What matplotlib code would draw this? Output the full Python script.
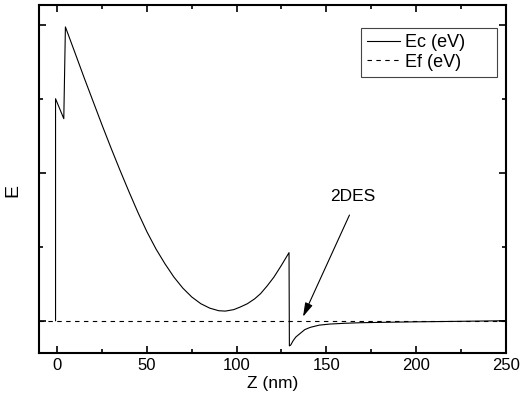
# band diagram: conduction band edge vs depth
import numpy as np
import matplotlib.pyplot as plt

plt.rcParams['font.family'] = ['Liberation Sans', 'DejaVu Sans']

# conduction band edge
z_ec = [-1, -1, 3.6, 4.5, 10, 15, 20, 25, 30, 35, 40, 45, 50, 55, 60, 65, 70,
        75, 80, 85, 90, 93.7, 98.4, 102, 106, 110, 113.3, 117, 120.8, 125,
        129.2,
        129.4, 130.1, 131.5, 133, 135.5, 138, 141, 146, 152, 160, 169, 186,
        200, 225, 250]
e_ec = [0, 0.30, 0.273, 0.397, 0.361, 0.328, 0.296, 0.264, 0.233, 0.203,
        0.174, 0.146, 0.120, 0.097, 0.077, 0.059, 0.044, 0.032, 0.023, 0.017,
        0.0135, 0.013, 0.015, 0.0185, 0.023, 0.0295, 0.0365, 0.047, 0.059,
        0.075, 0.092,
        -0.034, -0.033, -0.027, -0.022, -0.017, -0.012, -0.009, -0.006,
        -0.0045, -0.0035, -0.0027, -0.002, -0.0015, -0.0008, 0]

# fermi level
z_ef = [-10.4, 250]
e_ef = [0, 0]

fig = plt.figure(figsize=(5.2, 4.01), dpi=100)
ax = fig.add_axes([0.0744, 0.119, 0.898, 0.8685])

ax.plot(z_ec, e_ec, 'k-', lw=0.8, label='Ec (eV)     ')
ax.plot(z_ef, e_ef, 'k--', lw=0.8, dashes=(4, 4), label='Ef (eV)     ')

ax.annotate('', xy=(137, 0.0054), xytext=(162.9, 0.1428),
            arrowprops=dict(arrowstyle='-|>,head_length=0.7,head_width=0.2',
                            color='k', lw=0.8, shrinkA=0, shrinkB=0,
                            mutation_scale=12))
ax.text(164.9, 0.1676, '2DES', ha='center', va='center', fontsize=12.5)

ax.set_xlim(-10.4, 250)
ax.set_ylim(-0.044, 0.4266)
ax.set_xticks(np.arange(0, 251, 50))
ax.set_xticks(np.arange(25, 250, 50), minor=True)
ax.set_yticks([0, 0.2, 0.4])
ax.set_yticks([0.1, 0.3], minor=True)
ax.set_yticklabels([])
ax.tick_params(which='both', direction='in', top=True, right=True, width=1.2,
               labelsize=12)
ax.tick_params(which='major', length=5)
ax.tick_params(which='minor', length=3)
for s in ax.spines.values():
    s.set_linewidth(1.5)

ax.set_xlabel('Z (nm)', fontsize=12.5, labelpad=2)
ax.set_ylabel('E', fontsize=14)
ax.yaxis.set_label_coords(-0.038, 0.466)

leg = ax.legend(loc='upper right', bbox_to_anchor=(0.9807, 0.935),
                borderaxespad=0, fontsize=13, handlelength=1.8,
                fancybox=False, framealpha=1, edgecolor='#444444',
                labelspacing=0.15, handletextpad=0.3, borderpad=0.35)
leg.get_frame().set_linewidth(0.8)

plt.savefig('out.png', dpi=100)
